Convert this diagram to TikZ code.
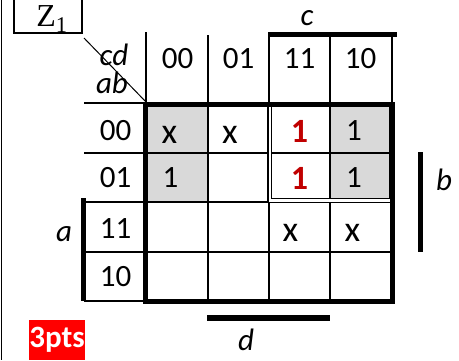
\documentclass[tikz,border=0pt]{standalone}
\usepackage{fontspec}
\setmainfont{Carlito}
\newfontfamily\tnr{Liberation Serif}
\definecolor{cellgray}{HTML}{D9D9D9}
\definecolor{onered}{HTML}{C00000}
\definecolor{tagred}{HTML}{FF0000}
\begin{document}
\begin{tikzpicture}[x=1pt,y=-1pt,
  thinl/.style={line width=2pt},
  thickl/.style={line width=5pt},
  celltxt/.style={inner sep=0pt,font=\fontsize{31}{34}\selectfont},
  xtxt/.style={inner sep=0pt,font=\fontsize{36}{38}\selectfont},
  redone/.style={inner sep=0pt,text=onered,font=\fontsize{34}{36}\selectfont\bfseries},
  vartxt/.style={inner sep=0pt,font=\fontsize{31}{34}\selectfont\itshape},
]
\useasboundingbox (0,0) rectangle (459,360);
% shaded cells
\fill[cellgray] (147,103) rectangle (208,202);
\fill[cellgray] (330,103) rectangle (391,202);
% left frame
\draw[line width=1pt] (1,0) -- (1,360);
% thin grid
\draw[thinl] (146,32) -- (146,103);
\draw[thinl] (208,35) -- (208,301);
\draw[thinl] (269,35) -- (269,301);
\draw[thinl] (330,35) -- (330,301);
\draw[thinl] (392,35) -- (392,103);
\draw[thinl] (84,103) -- (147,103);
\draw[thinl] (84,153) -- (391,153);
\draw[thinl] (84,202) -- (391,202);
\draw[thinl] (84,252) -- (391,252);
\draw[thinl] (84,301) -- (147,301);
% diagonal
\draw[line width=1pt] (84,38) -- (147,103);
% group double border
\draw[line width=1.2pt, double=white, double distance=2.6pt] (269.8,104) rectangle (391,200.3);
% map thick border
\draw[thickl] (145.5,104) rectangle (392.5,301);
% variable bars
\draw[thickl] (268,34.5) -- (397,34.5);
\draw[thickl] (420.5,152) -- (420.5,252);
\draw[line width=6pt] (207,318) -- (330,318);
\draw[thickl] (83.5,198) -- (83.5,301);
% Z1 box
\draw[line width=2pt] (14,-2) rectangle (82,33);
\node[inner sep=0pt,font=\tnr\fontsize{32}{34}\selectfont] (z) at (52,19) {Z\textsubscript{1}};
% labels
\node[vartxt] (cd) at (114,55) {cd};
\node[vartxt] (ab) at (112,83) {ab};
\node[vartxt] (c) at (307,18) {c};
\node[vartxt] (b) at (444,180) {b};
\node[vartxt] (a) at (64,234) {a};
\node[vartxt] (d) at (246,340) {d};
% column headers
\node[celltxt] (h00) at (177.5,59) {00};
\node[celltxt] (h01) at (238.5,59) {01};
\node[celltxt] (h11) at (299.5,59) {11};
\node[celltxt] (h10) at (360.5,59) {10};
% row headers
\node[celltxt] (r00) at (115.5,131) {00};
\node[celltxt] (r01) at (115.5,178) {01};
\node[celltxt] (r11) at (115.5,229) {11};
\node[celltxt] (r10) at (115.5,277) {10};
% cells
\node[xtxt] (c0000) at (169.5,135) {x};
\node[xtxt] (c0001) at (230,135) {x};
\node[redone] (c0011) at (299.5,131) {1};
\node[celltxt] (c0010) at (354,131) {1};
\node[celltxt] (c0100) at (170.5,178) {1};
\node[redone] (c0111) at (299.5,178) {1};
\node[celltxt] (c0110) at (354,178) {1};
\node[xtxt] (c1111) at (290.5,233) {x};
\node[xtxt] (c1110) at (352.5,233) {x};
% points tag
\fill[tagred] (29,320) rectangle (85,360);
\node[inner sep=0pt,text=white,font=\fontsize{31}{32}\selectfont\bfseries] (pts) at (57,340) {3pts};
\end{tikzpicture}
\end{document}
